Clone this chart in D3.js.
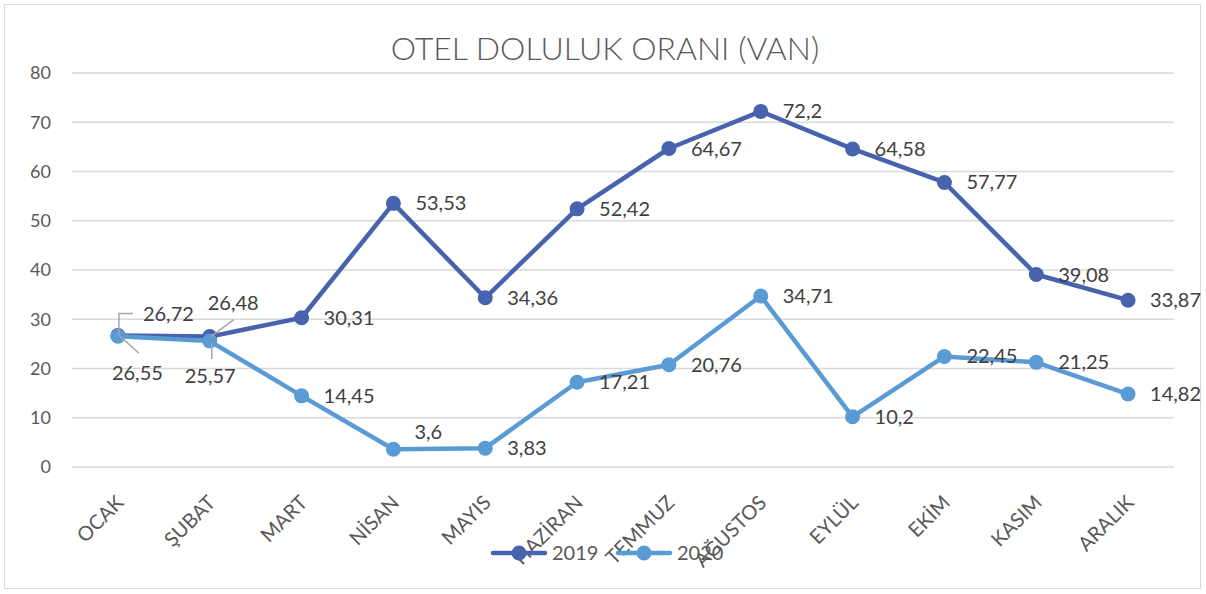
<!DOCTYPE html>
<meta charset="utf-8">
<html>
<script src="https://d3js.org/d3.v7.min.js"></script>
<style>
  body { margin: 0; background: #fff; }
</style>
<div id="chart"></div>
<script>

// chart data
var months = ["OCAK", "ŞUBAT", "MART", "NİSAN", "MAYIS", "HAZİRAN", "TEMMUZ", "AĞUSTOS", "EYLÜL", "EKİM", "KASIM", "ARALIK"];
var values2019 = [26.72, 26.48, 30.31, 53.53, 34.36, 52.42, 64.67, 72.2, 64.58, 57.77, 39.08, 33.87];
var values2020 = [26.55, 25.57, 14.45, 3.6, 3.83, 17.21, 20.76, 34.71, 10.2, 22.45, 21.25, 14.82];
var yTicks = [0, 10, 20, 30, 40, 50, 60, 70, 80];
var seriesNames = ["2019", "2020"];

var width = 1206,
    height = 594;
var font = "Lato, 'Open Sans', sans-serif";
var colors = { "2019": "#4763ad", "2020": "#5b9bd5" };

var svg = d3.select("#chart")
  .append("svg")
    .attr("width", width)
    .attr("height", height);

// outer frame
svg.append("rect")
    .attr("x", 4.5).attr("y", 4.5)
    .attr("width", 1196).attr("height", 584)
    .attr("fill", "white")
    .attr("stroke", "#d9d9d9");

var x = d3.scalePoint()
    .domain(months)
    .range([72, 1174])
    .padding(0.5);

var y = d3.scaleLinear()
    .domain([0, 80])
    .range([467, 73]);

// title
svg.append("text")
    .attr("x", 605)
    .attr("y", 60)
    .attr("text-anchor", "middle")
    .style("font-family", font)
    .style("font-weight", 300)
    .style("font-size", "32px")
    .attr("fill", "#595959")
    .text("OTEL DOLULUK ORANI (VAN)");

// gridlines + y labels
svg.selectAll("line.grid")
  .data(yTicks)
  .enter().append("line")
    .attr("class", "grid")
    .attr("x1", 72).attr("x2", 1174)
    .attr("y1", function(d) { return y(d); })
    .attr("y2", function(d) { return y(d); })
    .attr("stroke", "#d9d9d9")
    .attr("stroke-width", 1.5);

svg.selectAll("text.ytick")
  .data(yTicks)
  .enter().append("text")
    .attr("class", "ytick")
    .attr("x", 51)
    .attr("y", function(d) { return y(d); })
    .attr("dy", "0.35em")
    .attr("text-anchor", "end")
    .style("font-family", font)
    .style("font-size", "18px")
    .attr("fill", "#595959")
    .text(function(d) { return d; });

// x labels, rotated
svg.selectAll("text.xtick")
  .data(months)
  .enter().append("text")
    .attr("class", "xtick")
    .attr("transform", function(d) { return "translate(" + (x(d) + 2) + "," + 499 + ") rotate(-45)"; })
    .attr("text-anchor", "end")
    .attr("dy", "0.35em")
    .style("font-family", font)
    .style("font-size", "20px")
    .attr("fill", "#595959")
    .text(function(d) { return d; });

var line = d3.line()
    .x(function(d, i) { return x(months[i]); })
    .y(function(d) { return y(d); });

var series = [
  { name: "2019", values: values2019 },
  { name: "2020", values: values2020 }
];

series.forEach(function(s) {
  svg.append("path")
      .datum(s.values)
      .attr("d", line)
      .attr("fill", "none")
      .attr("stroke", colors[s.name])
      .attr("stroke-width", 4.5)
      .attr("stroke-linejoin", "round");

  svg.selectAll("circle.s" + s.name)
    .data(s.values)
    .enter().append("circle")
      .attr("class", "s" + s.name)
      .attr("cx", function(d, i) { return x(months[i]); })
      .attr("cy", function(d) { return y(d); })
      .attr("r", 7.5)
      .attr("fill", colors[s.name]);
});

// data labels (Excel style: right of point, a few moved by hand)
function fmt(v) { return String(v).replace(".", ","); }

// offsets [dx, dy] for labels that were dragged in the original
var moved2019 = { 0: [25, -21], 1: [-2, -34] };
var moved2020 = { 0: [-6, 37], 1: [-25, 35], 3: [21, -17] };

function drawLabels(vals, moved) {
  svg.selectAll(null)
    .data(vals)
    .enter().append("text")
      .attr("x", function(d, i) { return x(months[i]) + (moved[i] ? moved[i][0] : 22); })
      .attr("y", function(d, i) { return y(d) + (moved[i] ? moved[i][1] : 0); })
      .attr("dy", "0.35em")
      .style("font-family", font)
      .style("font-size", "20px")
      .attr("fill", "#404040")
      .text(function(d) { return fmt(d); });
}
drawLabels(values2019, moved2019);
drawLabels(values2020, moved2020);

// leader lines for the moved labels
var leader = svg.append("g")
    .attr("stroke", "#a6a6a6")
    .attr("stroke-width", 1.5)
    .attr("fill", "none");
var x0 = x(months[0]), x1 = x(months[1]);
leader.append("path")
    .attr("d", "M" + (x0 + 1) + "," + (y(values2019[0]) - 1) + " V" + (y(values2019[0]) - 22) + " H" + (x0 + 15));
leader.append("path")
    .attr("d", "M" + (x0 + 1) + "," + (y(values2020[0]) - 1) + " L" + (x0 + 21) + "," + (y(values2020[0]) + 17));
leader.append("path")
    .attr("d", "M" + (x1 + 1) + "," + y(values2019[1]) + " L" + (x1 + 24) + "," + (y(values2019[1]) - 17));
leader.append("path")
    .attr("d", "M" + (x1 + 2) + "," + (y(values2020[1]) + 2) + " V" + (y(values2020[1]) + 18));

// legend
var legend = svg.selectAll(".legend")
    .data(seriesNames)
    .enter().append("g")
    .attr("class", "legend")
    .attr("transform", function(d, i) { return "translate(" + (493 + i * 125) + ",553)"; });

legend.append("line")
    .attr("x1", 0).attr("x2", 52)
    .attr("y1", 0).attr("y2", 0)
    .attr("stroke", function(d) { return colors[d]; })
    .attr("stroke-width", 4.5)
    .attr("stroke-linecap", "round");

legend.append("circle")
    .attr("cx", 26).attr("cy", 0)
    .attr("r", 7.5)
    .attr("fill", function(d) { return colors[d]; });

legend.append("text")
    .attr("x", 59)
    .attr("y", 0)
    .attr("dy", "0.35em")
    .style("font-family", font)
    .style("font-size", "20px")
    .attr("fill", "#595959")
    .text(function(d) { return d; });
</script>
</html>
